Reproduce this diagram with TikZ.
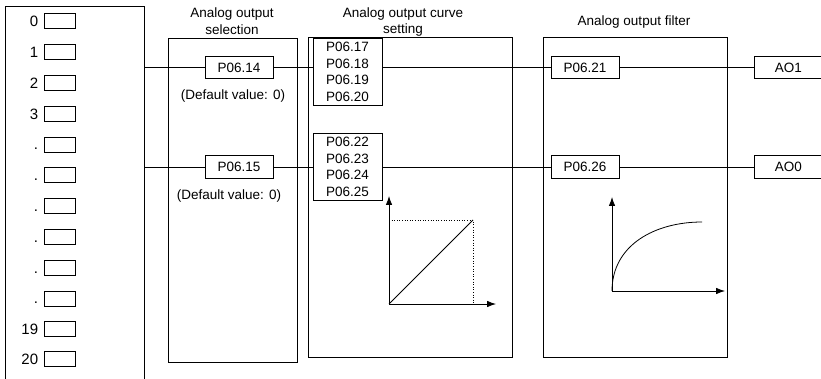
\documentclass[tikz,border=0pt]{standalone}
\usepackage{fontspec}
\setmainfont{Liberation Sans}
\usetikzlibrary{arrows.meta}
\begin{document}
\begin{tikzpicture}[x=1pt,y=-1pt,line width=0.8pt,
  every node/.style={font=\fontsize{13.5}{16.6}\selectfont},
  pbox/.style={draw,minimum width=68pt,minimum height=22.5pt,inner sep=0pt},
  stackbox/.style={draw,minimum width=69pt,minimum height=67pt,inner sep=0pt,align=center},
  smallbox/.style={draw,minimum width=31pt,minimum height=15pt,inner sep=0pt},
  numlab/.style={anchor=east,inner sep=0pt,text height=10.8pt,text depth=0pt,font=\fontsize{15}{18}\selectfont},
  panel/.style={draw},
  title/.style={align=center,inner sep=0pt},
  axis/.style={-{Latex[length=9pt,width=6.5pt]}},
  dotline/.style={dotted,line width=0.6pt}]
\useasboundingbox (0,0) rectangle (821,379);
\clip (0,0) rectangle (821,379);

% left panel
\draw (5,390) -- (5,6) -- (144,6) -- (144,390);
\foreach \lab/\yy [count=\i] in {0/21,1/52,2/83,3/114,./144.5,./175,./206,./237,./268,./298.5,19/329,20/359}{
  \node[numlab] (lab\i) at (38.5,\yy) {\lab};
  \node[smallbox] (sb\i) at (59.5,\yy) {};
}
\coordinate (out1) at (144,67.5);
\coordinate (out2) at (144,167);

% panels
\draw[panel] (168,38) rectangle (297,362);
\draw[panel] (308,37) rectangle (512,357);
\draw[panel] (543,37) rectangle (727,357);

% titles
\node[title] (t1) at (232,21) {Analog output\\selection};
\node[title] (t2) at (403,22) {Analog output curve\\setting};
\node[title] (t3) at (634,22) {Analog output filter};

% row 1
\node[pbox] (p14) at (239,67.5) {P06.14};
\node (d1) at (233,96) {(Default value: 0)};
\node[stackbox] (s1) at (347.5,72) {P06.17\\P06.18\\P06.19\\P06.20};
\node[pbox] (p21) at (585,67.5) {P06.21};
\node[pbox,minimum width=80pt,anchor=west] (ao1) at (754,67.5) {\hspace*{-12pt}AO1};

% row 2
\node[pbox] (p15) at (239,167) {P06.15};
\node (d2) at (229,196) {(Default value: 0)};
\node[stackbox] (s2) at (347.5,167) {P06.22\\P06.23\\P06.24\\P06.25};
\node[pbox] (p26) at (585,167) {P06.26};
\node[pbox,minimum width=80pt,anchor=west] (ao0) at (754,167) {\hspace*{-12pt}AO0};

% connectors
\draw (out1) -- (p14.west);
\draw (p14.east) -- (p14.east -| s1.west);
\draw (s1.east |- p14) -- (p21.west);
\draw (p21.east) -- (p21.east -| ao1.west);
\draw (out2) -- (p15.west);
\draw (p15.east) -- (s2.west);
\draw (s2.east) -- (p26.west);
\draw (p26.east) -- (ao0.west);

% curve graph
\coordinate (g1o) at (389,304);
\draw[axis] (g1o) -- (389,196);
\draw[axis] (g1o) -- (496,304);
\draw[dotline] (389,220) -- (473,220) -- (473,304);
\draw (g1o) -- (473,220);

% filter graph
\coordinate (g2o) at (612,291);
\draw[axis] (g2o) -- (612,197);
\draw[axis] (g2o) -- (725,291);
\draw (g2o) .. controls (612,245) and (655,222) .. (702,222);
\end{tikzpicture}
\end{document}
